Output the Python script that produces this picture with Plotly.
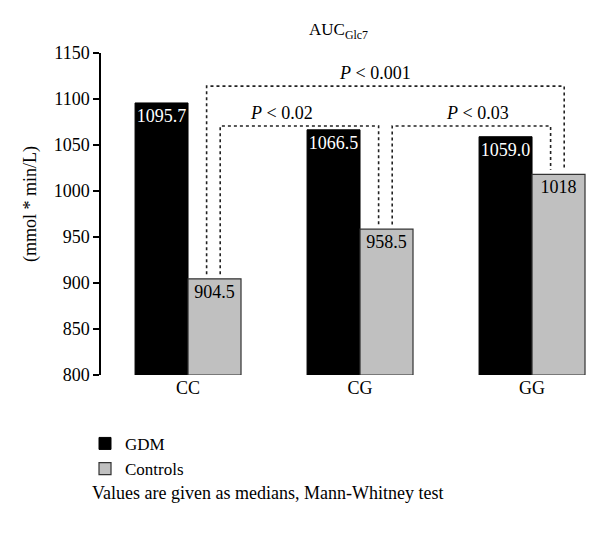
import plotly.graph_objects as go

categories = ["CC", "CG", "GG"]
gdm = [1095.7, 1066.5, 1059.0]
controls = [904.5, 958.5, 1018]
gdm_labels = ["1095.7", "1066.5", "1059.0"]
controls_labels = ["904.5", "958.5", "1018"]
y_ticks = [800, 850, 900, 950, 1000, 1050, 1100, 1150]
# comparisons: (left group, right group, p-text, bracket level)
comparisons = [
    (0, 1, "<i>P</i> < 0.02", 1070.7),
    (1, 2, "<i>P</i> < 0.03", 1070.7),
    (0, 2, "<i>P</i> < 0.001", 1114),
]

FONT = "Liberation Serif, DejaVu Serif, serif"
FS = 18
xpos = list(range(len(categories)))

fig = go.Figure()
fig.add_trace(go.Bar(
    x=xpos, y=[v - 800 for v in gdm], base=800, name="GDM",
    marker=dict(color="black", line=dict(color="black", width=1)),
    text=gdm_labels, textposition="inside", insidetextanchor="end",
    textangle=0, constraintext="none",
    textfont=dict(color="white", size=FS, family=FONT),
))
fig.add_trace(go.Bar(
    x=xpos, y=[v - 800 for v in controls], base=800, name="Controls",
    marker=dict(color="#c0c0c0", line=dict(color="#333333", width=1.2)),
    text=controls_labels, textposition="inside", insidetextanchor="end",
    textangle=0, constraintext="none",
    textfont=dict(color="black", size=FS, family=FONT),
))

# bracket leg offsets relative to group center
inner, outer = 0.108, 0.187
leg_x = {
    (0, 1): (outer, inner),
    (1, 2): (outer, inner),
    (0, 2): (inner, outer),
}
text_x = {(0, 1): 0.541, (1, 2): 1.68, (0, 2): 1.087}
gap = 5
for a, b, label, level in comparisons:
    la, lb = leg_x[(a, b)]
    x0 = xpos[a] + la
    x1 = xpos[b] + lb
    y0 = controls[a] + gap
    y1 = controls[b] + gap
    fig.add_shape(
        type="path", xref="x", yref="y",
        path=f"M {x0},{y0} L {x0},{level} L {x1},{level} L {x1},{y1}",
        line=dict(color="#222222", width=1.6, dash="dot"),
    )
    fig.add_annotation(
        x=text_x[(a, b)], y=level + 14, xref="x", yref="y",
        text=label, showarrow=False, xanchor="center", yanchor="middle",
        font=dict(size=FS, family=FONT, color="black"),
    )

# title
fig.add_annotation(
    x=0.485, y=1.068, xref="paper", yref="paper",
    text="AUC<sub>Glc7</sub>", showarrow=False,
    xanchor="center", yanchor="middle",
    font=dict(size=17, family=FONT, color="black"),
)
# y-axis title
fig.add_annotation(
    x=-0.145, y=0.531, xref="paper", yref="paper",
    text="(mmol * min/L)", showarrow=False, textangle=-90,
    xanchor="center", yanchor="middle",
    font=dict(size=FS, family=FONT, color="black"),
)
# footnote
fig.add_annotation(
    x=-0.0225, y=-0.366, xref="paper", yref="paper",
    xanchor="left", yanchor="middle",
    text="Values are given as medians, Mann-Whitney test", showarrow=False,
    font=dict(size=FS, family=FONT, color="black"),
)

fig.update_layout(
    width=600, height=539,
    margin=dict(l=101, r=10, t=53, b=164),
    paper_bgcolor="white", plot_bgcolor="white",
    barmode="group", bargap=0.384, bargroupgap=0,
    font=dict(family=FONT, size=FS, color="black"),
    showlegend=True,
    legend=dict(
        x=-0.0327, y=-0.158, xanchor="left", yanchor="top",
        font=dict(size=17, family=FONT), tracegroupgap=0,
        itemwidth=30, bgcolor="rgba(0,0,0,0)",
    ),
    xaxis=dict(
        range=[-0.506, 2.337], tickvals=xpos, ticktext=categories,
        showline=False, showgrid=False, zeroline=False, ticks="",
        tickfont=dict(size=FS, family=FONT),
    ),
    yaxis=dict(
        range=[800, 1150], tickvals=y_ticks, showgrid=False, zeroline=False,
        showline=True, linecolor="black", linewidth=1.5,
        ticks="outside", ticklen=6, tickwidth=1.5, tickcolor="black",
        tickfont=dict(size=FS, family=FONT),
    ),
)

fig.write_html(
    "out.html",
    config={"displayModeBar": False},
    post_script="document.body.style.margin='0';",
)
